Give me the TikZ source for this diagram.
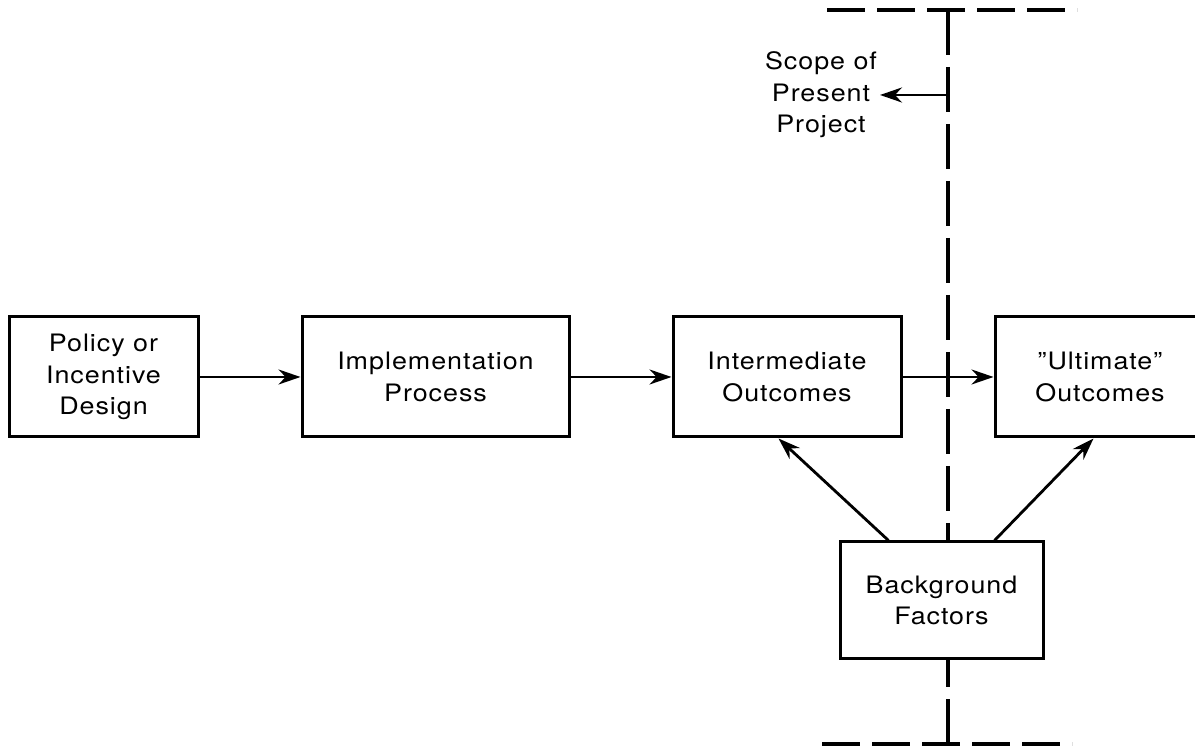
\documentclass[tikz,border=0pt]{standalone}
\usepackage{fontspec}
\setmainfont{TeX Gyre Heros}[LetterSpace=4,FakeStretch=1.12]
\usetikzlibrary{arrows.meta}
\tikzset{
  stage/.style={draw,line width=1.5pt,align=center,inner sep=0pt,minimum height=60pt,font=\fontsize{12}{15.7}\selectfont},
  conn/.style={line width=1.4pt,-{Stealth[length=11pt,width=7.5pt]}},
  bound/.style={line width=1.7pt,dash pattern=on 22.5pt off 6pt},
}
\begin{document}
\begin{tikzpicture}[x=0.5pt,y=-0.5pt]
% 1195 x 747 px
\clip (0,0) rectangle (1195,747);
\node[stage,minimum width=94.5pt] (policy) at (103.5,377) {Policy or\\Incentive\\Design};
\node[stage,minimum width=133.5pt] (impl) at (435.5,377) {Implementation\\Process};
\node[stage,minimum width=114pt] (inter) at (787,377) {Intermediate\\Outcomes};
\node[stage,minimum width=105pt] (ult) at (1100,377) {"Ultimate"\\Outcomes};
\node[stage,minimum width=101.5pt,minimum height=58.5pt] (backg) at (941.5,600.5) {Background\\Factors};
\node[align=center,font=\fontsize{12}{15.7}\selectfont] (scope) at (821,95) {Scope of\\Present\\Project};
\draw[conn] (policy) -- (impl);
\draw[conn] (impl) -- (inter);
\draw[conn] (inter) -- (ult);
\draw[conn] ([shift={(50,0)}]backg.north west) -- ([shift={(107,0)}]inter.south west);
\draw[conn] ([shift={(-50,0)}]backg.north east) -- ([shift={(100,0)}]ult.south west);
% scope boundary
\coordinate (btop) at (948,10);
\coordinate (bbot) at (948,744);
\coordinate (btopl) at (827,10);
\coordinate (btopr) at (1077,10);
\coordinate (bbotl) at (822,744);
\coordinate (bbotr) at (1072,744);
\draw[bound,dash pattern=on 19pt off 6pt] (btopl) -- (btopr);
\draw[bound,dash pattern=on 19pt off 6pt] (bbotl) -- (bbotr);
\draw[bound] (btop) -- (btop |- backg.north);
\draw[bound] (bbot) -- (bbot |- backg.south);
\coordinate (sarr) at (948,95);
\coordinate (stip) at (880,95);
\draw[conn] (sarr) -- (stip);
\end{tikzpicture}
\end{document}
